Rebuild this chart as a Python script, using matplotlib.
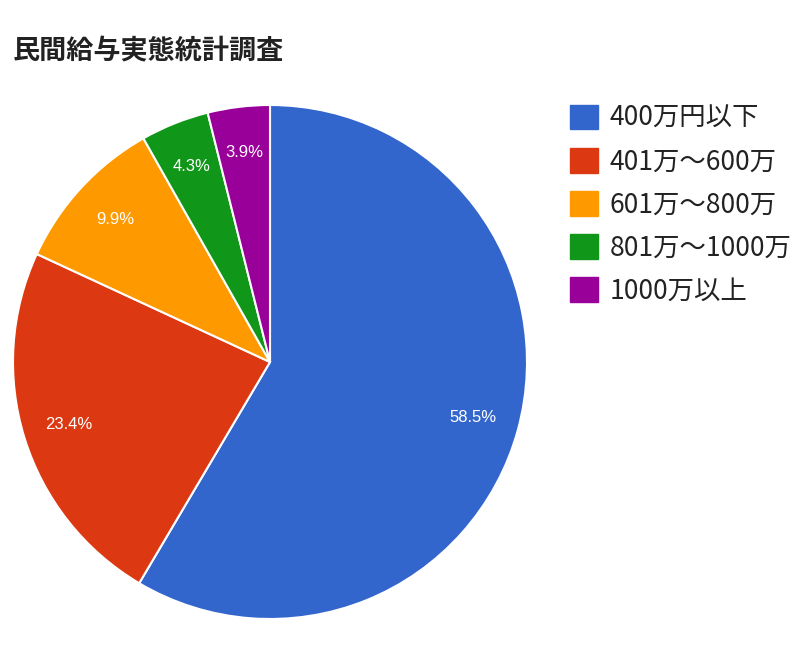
import matplotlib.pyplot as plt
from matplotlib.patches import Patch

plt.rcParams['font.family'] = ['Noto Sans CJK JP', 'DejaVu Sans']

categories = ["400万円以下", "401万〜600万", "601万〜800万", "801万〜1000万", "1000万以上"]
shares = [58.5, 23.4, 9.9, 4.3, 3.9]
colors = ["#3366CC", "#DC3912", "#FF9900", "#109618", "#990099"]

W, H = 800, 666
fig = plt.figure(figsize=(W / 100, H / 100), dpi=100)

# pie centre (270, 362) px, radius 257 px
cx, cy, r = 270, 362, 257
ax = fig.add_axes([(cx - r) / W, (H - cy - r) / H, 2 * r / W, 2 * r / H])
wedges, texts, autotexts = ax.pie(
    shares, colors=colors, startangle=90, counterclock=False,
    autopct="%.1f%%", pctdistance=0.82,
    wedgeprops=dict(edgecolor="white", linewidth=1.5),
    textprops=dict(color="white", fontsize=12, family=["Liberation Sans", "DejaVu Sans"]),
)
ax.set_xlim(-1, 1)
ax.set_ylim(-1, 1)
ax.axis("off")

fig.text(13 / W, 1 - 51 / H, "民間給与実態統計調査", fontsize=19.5, fontweight="bold",
         color="#222222", va="center", ha="left")

handles = [Patch(facecolor=c, edgecolor=c) for c in colors]
fig.legend(handles, categories, loc="upper left", bbox_to_anchor=(570 / W, 1 - 105 / H),
           frameon=False, fontsize=19, labelcolor="#222222", borderpad=0, borderaxespad=0,
           handlelength=1.05, handleheight=1.05, handletextpad=0.45, labelspacing=0.6)

fig.savefig("out.png", dpi=100, facecolor="white")
